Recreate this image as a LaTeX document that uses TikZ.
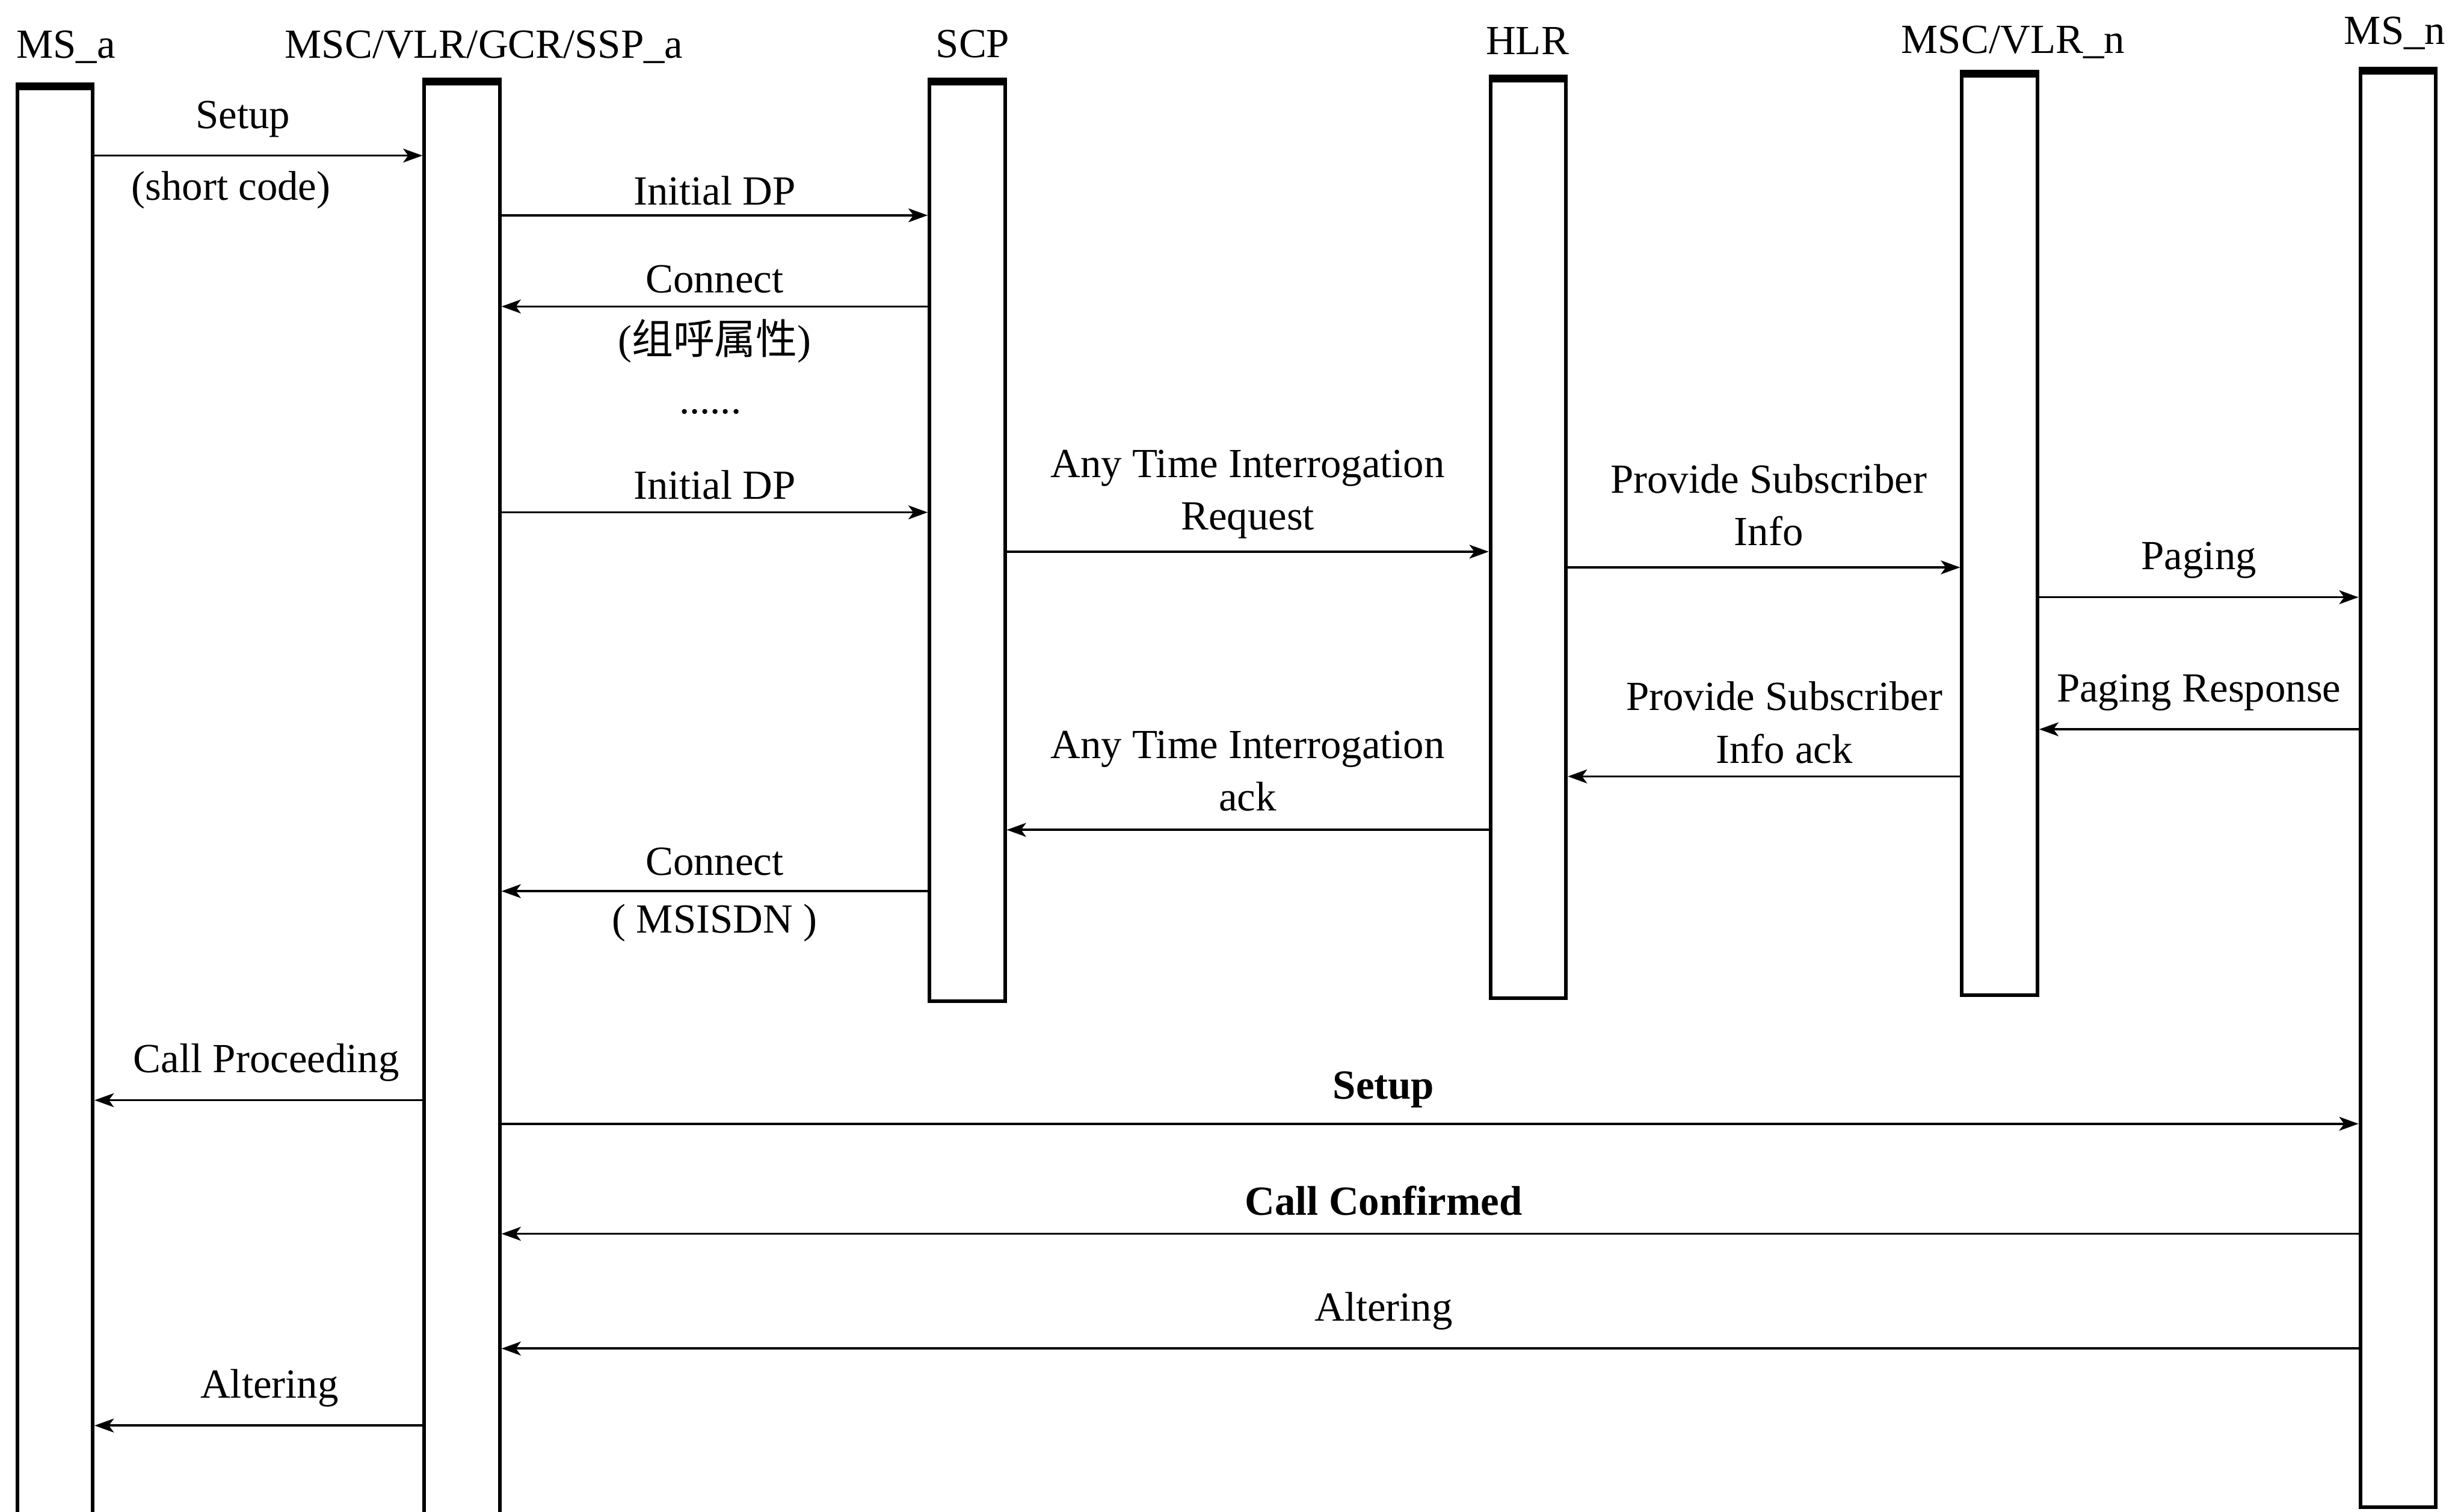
\documentclass[tikz,border=0pt]{standalone}
\usepackage{fontspec}
\setmainfont{Liberation Serif}
\newfontfamily\cjk{Noto Sans CJK SC}
\usetikzlibrary{arrows.meta}

\tikzset{
    lifebox/.style={draw, line width=1.3pt, minimum width=0.96cm, anchor=north, inner sep=0pt},
    topbar/.style={line width=2.8pt},
    msg/.style={line width=0.8pt, -{Stealth[length=7pt, width=5pt, inset=1.8pt]}},
    lbl/.style={font=\fontsize{15}{19}\selectfont, align=center},
}

\begin{document}
\begin{tikzpicture}[x=0.02cm, y=-0.02cm]
        \useasboundingbox (0, 0) rectangle (1568, 962);

        % Entidades
        \node[lbl] (tmsa) at (42, 30) {MS\_a};
        \node[lbl] (tmsca) at (308, 30) {MSC/VLR/GCR/SSP\_a};
        \node[lbl] (tscp) at (619, 28) {SCP};
        \node[lbl] (thlr) at (972, 26) {HLR};
        \node[lbl] (tmscn) at (1281, 27) {MSC/VLR\_n};
        \node[lbl] (tmsn) at (1524, 21) {MS\_n};

        % Lineas de vida
        \node[lifebox, minimum height=18.7cm] (msa) at (35, 55) {};
        \node[lifebox, minimum height=18.76cm] (msca) at (294, 52) {};
        \node[lifebox, minimum height=11.68cm] (scp) at (615.5, 52) {};
        \node[lifebox, minimum height=11.68cm] (hlr) at (972.5, 50) {};
        \node[lifebox, minimum height=11.7cm] (mscn) at (1272.5, 47) {};
        \node[lifebox, minimum height=18.26cm] (msn) at (1526, 45) {};
        \foreach \n in {msa, msca, scp, hlr, mscn, msn}
            \draw[topbar] (\n.north west) -- (\n.north east);

        % Llamada de grupo
        \draw[msg] (msa.east |- 0, 99) -- (msca.west |- 0, 99)
            node[lbl, midway, above=3pt, xshift=-0.2cm] (m1) {Setup}
            node[lbl, midway, below=2pt, xshift=-0.35cm] (m1b) {(short code)};
        \draw[msg] (msca.east |- 0, 137) -- (scp.west |- 0, 137)
            node[lbl, midway, above=0pt] (m2) {Initial DP};
        \draw[msg] (scp.west |- 0, 195) -- (msca.east |- 0, 195)
            node[lbl, midway, above=1pt] (m3) {Connect}
            node[lbl, midway, below=1pt] (m3b) {({\cjk 组呼属性})};
        \node[lbl] (dots) at (452, 262) {......};
        \draw[msg] (msca.east |- 0, 326) -- (scp.west |- 0, 326)
            node[lbl, midway, above=1pt] (m4) {Initial DP};

        % Consulta al HLR y paging
        \draw[msg] (scp.east |- 0, 351) -- (hlr.west |- 0, 351)
            node[lbl, midway, above=1pt] (m5) {Any Time Interrogation\\Request};
        \draw[msg] (hlr.east |- 0, 361) -- (mscn.west |- 0, 361)
            node[lbl, midway, above=4pt, xshift=0.06cm] (m6) {Provide Subscriber\\Info};
        \draw[msg] (mscn.east |- 0, 380) -- (msn.west |- 0, 380)
            node[lbl, midway, above=3pt] (m7) {Paging};
        \draw[msg] (msn.west |- 0, 464) -- (mscn.east |- 0, 464)
            node[lbl, midway, above=3pt] (m8) {Paging Response};
        \draw[msg] (mscn.west |- 0, 494) -- (hlr.east |- 0, 494)
            node[lbl, midway, above=1pt, xshift=0.26cm] (m9) {Provide Subscriber\\Info ack};
        \draw[msg] (hlr.west |- 0, 528) -- (scp.east |- 0, 528)
            node[lbl, midway, above=3pt] (m10) {Any Time Interrogation\\ack};
        \draw[msg] (scp.west |- 0, 567) -- (msca.east |- 0, 567)
            node[lbl, midway, above=2pt] (m11) {Connect}
            node[lbl, midway, below=1pt] (m11b) {( MSISDN )};

        % Establecimiento con MS_n
        \draw[msg] (msca.west |- 0, 700) -- (msa.east |- 0, 700)
            node[lbl, midway, above=3pt, xshift=0.1cm] (m12) {Call Proceeding};
        \draw[msg] (msca.east |- 0, 715) -- (msn.west |- 0, 715)
            node[lbl, pos=0.475, above=2pt] (m13) {\bfseries Setup};
        \draw[msg] (msn.west |- 0, 785) -- (msca.east |- 0, 785)
            node[lbl, pos=0.525, above=3pt] (m14) {\bfseries Call Confirmed};
        \draw[msg] (msn.west |- 0, 858) -- (msca.east |- 0, 858)
            node[lbl, pos=0.525, above=3pt] (m15) {Altering};
        \draw[msg] (msca.west |- 0, 907) -- (msa.east |- 0, 907)
            node[lbl, midway, above=3pt, xshift=0.14cm] (m16) {Altering};

    \end{tikzpicture}
\end{document}
